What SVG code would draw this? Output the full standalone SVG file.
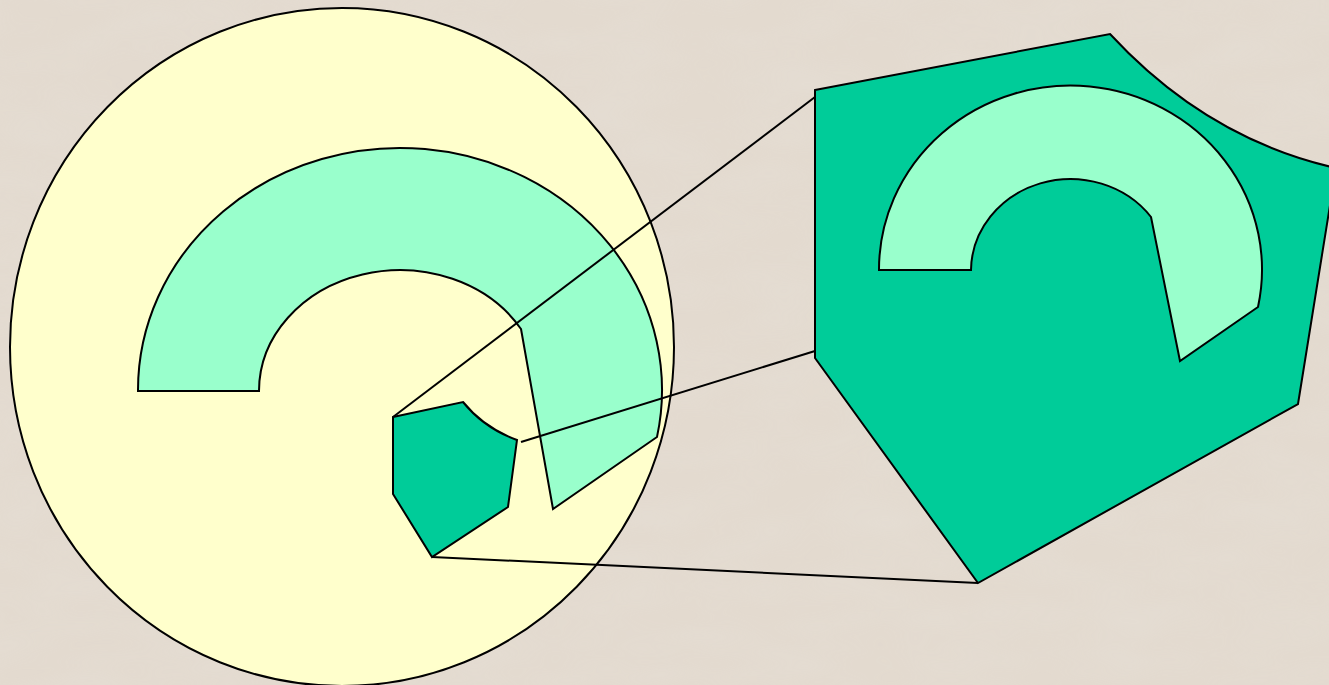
<svg xmlns="http://www.w3.org/2000/svg" width="1329" height="685" viewBox="0 0 1329 685">
  <defs>
    <filter id="tex" x="0" y="0" width="100%" height="100%">
      <feTurbulence type="fractalNoise" baseFrequency="0.012 0.03" numOctaves="2" seed="4" result="n"/>
      <feColorMatrix in="n" type="matrix" values="0 0 0 0 0.80  0 0 0 0 0.76  0 0 0 0 0.70  0 0 0 0.9 -0.25"/>
    </filter>
    <style>
      .ol { stroke: #000; stroke-width: 2; stroke-linejoin: miter; }
      .light { fill: #99ffcc; }
      .dark { fill: #00cc99; }
      .conn { stroke: #000; stroke-width: 2; fill: none; }
    </style>
  </defs>

  <rect width="1329" height="685" fill="#e3dacf"/>
  <rect width="1329" height="685" filter="url(#tex)" opacity="0.55"/>

  <g id="big-circle">
    <ellipse cx="342" cy="347" rx="332" ry="339" fill="#ffffcc" class="ol"/>
  </g>

  <g id="arc-left">
    <path class="light ol" d="M138,391 A262,242 0 1 1 657,437 L553,509 L521,329 A141,121 0 0 0 259,391 Z"/>
  </g>

  <g id="small-piece">
    <path class="dark ol" d="M393,417 L463,402 Q484,428 517,440 L508,507 L432,557 L393,494 Z"/>
  </g>

  <g id="connectors">
    <line class="conn" x1="393" y1="417" x2="815" y2="97"/>
    <line class="conn" x1="521" y1="442" x2="815" y2="351"/>
    <line class="conn" x1="432" y1="557" x2="978" y2="583"/>
  </g>

  <g id="big-piece">
    <path class="dark ol" d="M815,90 L1110,34 Q1207,139 1336,168 L1298,404 L978,583 L815,358 Z"/>
  </g>

  <g id="arc-right">
    <path class="light ol" d="M879,270 A191.5,184 0 1 1 1258,307 L1180,361 L1151,217 A99.5,92 0 0 0 971,270 Z"/>
  </g>
</svg>
